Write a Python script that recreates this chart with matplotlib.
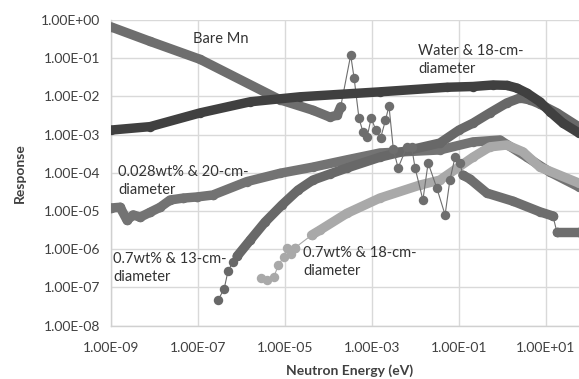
import matplotlib
matplotlib.use('Agg')
from matplotlib import pyplot as plt
import numpy as np

# log10 of energy (eV) and log10 of response
water_x = [-9.0, -8.10, -6.95, -5.80, -4.66, -2.82, -1.28, -0.68, -0.22, 0.10, 0.33,
           0.56, 0.86, 1.09, 1.39, 1.76]
water_y = [-2.88, -2.79, -2.43, -2.14, -2.01, -1.88, -1.76, -1.74, -1.70, -1.71, -1.78,
           -1.91, -2.14, -2.40, -2.70, -2.96]

bare_x1 = [-9.0, -8.10, -6.95, -5.11, -4.36, -3.97, -3.80, -3.72]
bare_y1 = [-0.18, -0.56, -1.03, -2.09, -2.36, -2.54, -2.49, -2.27]
bare_xr = [-3.72, -3.49, -3.41, -3.30, -3.21, -3.11, -3.02, -2.91, -2.80, -2.69, -2.61,
           -2.51, -2.40, -2.20, -2.09, -2.01, -1.83, -1.71, -1.51, -1.32, -1.21, -1.09,
           -0.98, -0.91]
bare_yr = [-2.27, -0.92, -1.53, -2.57, -2.92, -3.05, -2.57, -2.88, -3.08, -2.62, -2.25,
           -3.38, -3.87, -3.32, -3.32, -3.87, -4.71, -3.74, -4.40, -5.10, -4.19, -3.58,
           -3.74, -4.06]
bare_x2 = [-0.91, -0.75, -0.36, 0.24, 0.86, 1.16]
bare_y2 = [-4.06, -4.16, -4.53, -4.74, -5.02, -5.13]
bare_x3 = [1.16, 1.25, 1.76]
bare_y3 = [-5.13, -5.55, -5.55]

w028_x = [-9.0, -8.79, -8.63, -8.49, -8.33, -8.10, -7.87, -7.64, -7.34, -7.02, -6.66,
          -5.88, -5.11, -4.36, -3.58, -2.82, -1.44, -0.68, -0.06, 0.56, 1.09, 1.76]
w028_y = [-4.92, -4.90, -5.24, -5.10, -5.16, -5.03, -4.90, -4.71, -4.66, -4.63, -4.58,
          -4.23, -4.01, -3.85, -3.66, -3.48, -3.40, -3.19, -3.14, -3.59, -3.98, -4.37]

w07_13_x = [-6.54, -6.40, -6.31, -6.20, -6.10, -5.80, -5.46, -5.07, -4.70, -4.36, -3.97,
            -3.57, -2.82, -2.13, -1.44, -1.00, -0.68, -0.29, 0.10, 0.40, 0.63, 0.86,
            1.25, 1.76]
w07_13_y = [-7.33, -7.04, -6.57, -6.34, -6.18, -5.76, -5.29, -4.84, -4.45, -4.19, -4.03,
            -3.87, -3.59, -3.40, -3.22, -2.88, -2.70, -2.43, -2.17, -2.04, -2.09, -2.20,
            -2.43, -2.80]

w07_18_xa = [-5.56, -5.42, -5.26, -5.15, -5.03, -4.96, -4.87, -4.78]
w07_18_ya = [-6.75, -6.81, -6.73, -6.41, -6.20, -5.97, -6.12, -5.97]
w07_18_x = [-4.78, -4.39, -4.20, -3.58, -2.82, -1.90, -1.44, -0.68, -0.29, 0.10, 0.47,
            0.86, 1.76]
w07_18_y = [-5.97, -5.63, -5.50, -5.06, -4.66, -4.32, -4.19, -3.59, -3.32, -3.27, -3.45,
            -3.85, -4.27]

y_ticks = [1e-8, 1e-7, 1e-6, 1e-5, 1e-4, 1e-3, 1e-2, 1e-1, 1e0]
x_ticks = [1e-9, 1e-7, 1e-5, 1e-3, 1e-1, 1e1]

plt.rcParams['font.family'] = ['Lato', 'DejaVu Sans']

fig = plt.figure(figsize=(5.79, 3.79), dpi=100)
ax = fig.add_axes([0.1917, 0.1406, 0.9016, 0.8066])
ax.set_xscale('log')
ax.set_yscale('log')
ax.set_xlim(1e-9, 1e3)
ax.set_ylim(1e-8, 1e0)

ms = 6.8

def smooth(x, y, c, z):
    ax.plot(10 ** np.array(x), 10 ** np.array(y), color=c, lw=ms, zorder=z,
            solid_capstyle='round', solid_joinstyle='round')
    ax.plot(10 ** np.array(x), 10 ** np.array(y), 'o', color=c, ms=ms, mew=0, zorder=z)

def dots(x, y, c, z):
    ax.plot(10 ** np.array(x), 10 ** np.array(y), '-o', color=c, ms=ms, mew=0, lw=0.8, zorder=z)

c_bare = '#6e6e6e'
c_water = '#404040'
c_028 = '#737373'
c_13 = '#686868'
c_18 = '#a9a9a9'

smooth(w028_x, w028_y, c_028, 3)
dots(w028_x[:11], w028_y[:11], c_028, 3)
smooth(w07_13_x[4:], w07_13_y[4:], c_13, 4)
dots(w07_13_x[:6], w07_13_y[:6], c_13, 4)
dots(w07_18_xa, w07_18_ya, c_18, 5)
smooth(w07_18_x[1:], w07_18_y[1:], c_18, 5)
dots(w07_18_x[:2], w07_18_y[:2], c_18, 5)
smooth(bare_x1, bare_y1, c_bare, 6)
dots(bare_xr, bare_yr, c_bare, 6)
smooth(bare_x2, bare_y2, c_bare, 6)
dots(bare_x3, bare_y3, c_bare, 6)
smooth(bare_x3[1:], bare_y3[1:], c_bare, 6)
smooth(water_x, water_y, c_water, 7)

ax.set_xticks(x_ticks)
ax.set_yticks(y_ticks)
ax.minorticks_off()
ax.set_xticklabels([f'{v:.2E}' for v in x_ticks])
ax.set_yticklabels([f'{v:.2E}' for v in y_ticks])
ax.tick_params(length=0, labelsize=10, colors='#404040', pad=8)
ax.tick_params(axis='x', pad=12)
ax.grid(True, color='#d9d9d9', lw=1)
ax.set_axisbelow(True)
for s in ['top', 'right']:
    ax.spines[s].set_visible(False)
for s in ['left', 'bottom']:
    ax.spines[s].set_color('#d0d0d0')
    ax.spines[s].set_linewidth(1)

def label(px, py, s):
    fig.text(px / 579, 1 - py / 379, s, fontsize=10.5, color='#333333',
             linespacing=1.35, va='center', ha='left')

label(193, 39, 'Bare Mn')
label(418, 60, 'Water & 18-cm-\ndiameter')
label(118, 181, '0.028wt% & 20-cm-\ndiameter')
label(113, 268, '0.7wt% & 13-cm-\ndiameter')
label(303, 262, '0.7wt% & 18-cm-\ndiameter')

fig.text(350 / 579, 1 - 371 / 379, 'Neutron Energy (eV)', fontsize=10, fontweight='bold',
         color='#404040', ha='center', va='center')
fig.text(20 / 579, 1 - 173 / 379, 'Response', fontsize=10, fontweight='bold',
         color='#404040', ha='center', va='center', rotation=90)

fig.savefig('out.png', dpi=100)
